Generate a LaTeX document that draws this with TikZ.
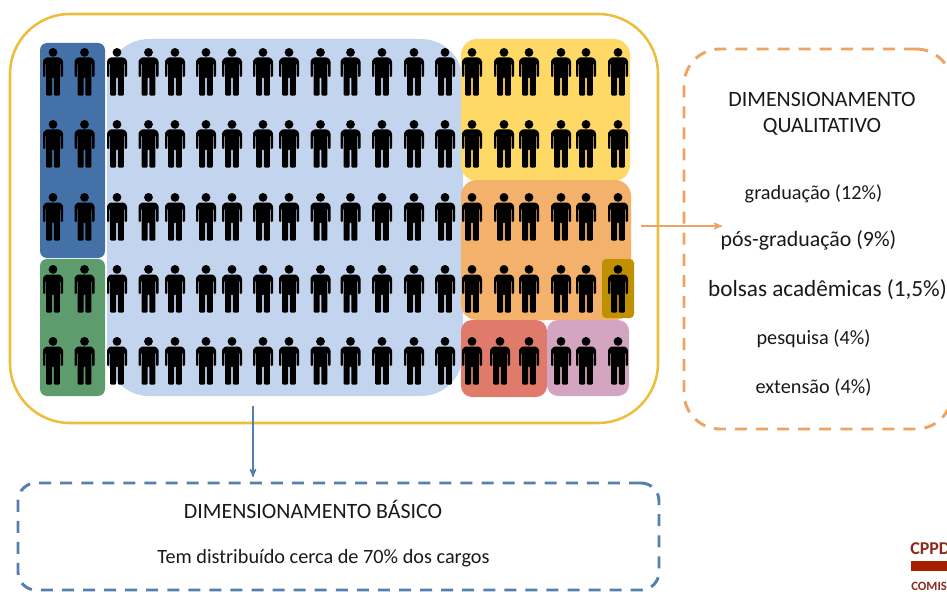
\documentclass[tikz,border=0pt]{standalone}
\usepackage{fontspec}
\setmainfont{Carlito}
\usetikzlibrary{arrows}
\definecolor{frameyellow}{HTML}{EDBE3C}
\definecolor{lightblue}{HTML}{C3D5EE}
\definecolor{darkblue}{HTML}{4472A8}
\definecolor{darkgreen}{HTML}{5E9C6E}
\definecolor{softyellow}{HTML}{FFD966}
\definecolor{softorange}{HTML}{F4B16C}
\definecolor{darkgold}{HTML}{BF9000}
\definecolor{softred}{HTML}{E07B6B}
\definecolor{softpink}{HTML}{D3A5C0}
\definecolor{lineorange}{HTML}{EFA362}
\definecolor{lineblue}{HTML}{5580AE}
\definecolor{logored}{HTML}{A51E00}
\definecolor{logotext}{HTML}{8B2A1A}
\tikzset{
    region/.style n args={3}{
    rectangle,rounded corners=#1*0.75pt,inner sep=0pt,
    minimum width=#2*0.75pt,minimum height=#3*0.75pt
    },
    framebox/.style={
    draw=frameyellow,line width=1.9pt
    },
    dimbox/.style={
    dashed,line width=2.2pt,dash pattern=on 9pt off 6.8pt,fill=none
    },
    label/.style={
    inner sep=0pt,font=\fontsize{15.2}{18}\selectfont,text=black!90
    },
    widelabel/.style={
    label,font=\fontsize{16.4}{19}\selectfont
    },
    link/.style={
    -stealth',line width=1.1pt,shorten >=0pt
    },
    person/.pic={
      \fill (0,4.4) circle (3.3pt);
      \fill[rounded corners=0.8pt] (-7,9.5) -- (7,9.5) -- (10,12.5) -- (10,29) -- (7.6,29)
        -- (7.6,15.5) -- (6.8,15.5) -- (6.8,47.6) -- (0.8,47.6) -- (0.8,29) -- (-0.8,29)
        -- (-0.8,47.6) -- (-6.8,47.6) -- (-6.8,15.5) -- (-7.6,15.5) -- (-7.6,29)
        -- (-10,29) -- (-10,12.5) -- cycle;
    },
}
\newcommand{\upcols}{53,84.5,117,148.5,175,206,232,263,289,320.5,350.5,382,414,445,472,504,529,561,586,618}
\newcommand{\lowcols}{53,84.5,117,148.5,175,206,232,263,289,320.5,350.5,382,414,445,472,500,529,561,586,618}
\begin{document}
\begin{tikzpicture}[x=0.75pt,y=-0.75pt]
  \clip (0,0) rectangle (947,592);

  % cargos
  \node[region={60}{648}{409},framebox] (frame) at (334,218.5) {};
  \node[region={42}{356}{357},fill=lightblue] (basico) at (285,217.5) {};
  \node[region={7}{65}{215},fill=darkblue] (azul) at (72.5,150.5) {};
  \node[region={7}{65}{137},fill=darkgreen] (verde) at (72.5,327.5) {};
  \node[region={16}{169}{142},fill=softyellow] (amarelo) at (545.5,110) {};
  \node[region={16}{170}{140},fill=softorange] (laranja) at (546,250) {};
  \node[region={4}{32}{59},fill=darkgold] (ouro) at (618,288.5) {};
  \node[region={11}{86}{77},fill=softred] (vermelho) at (504,358.5) {};
  \node[region={11}{82}{76},fill=softpink] (rosa) at (588,358) {};

  \foreach \py in {48,120,193,265}
    \foreach \px in \upcols
      \pic at (\px,\py) {person};
  \foreach \px in \lowcols
    \pic at (\px,337) {person};

  % dimensionamento qualitativo
  \node[region={36}{268}{380},dimbox,draw=lineorange] (qual) at (818,239) {};
  \node[widelabel] (qualtitle) at (822,99.5) {DIMENSIONAMENTO};
  \node[widelabel] (qualsub) at (822,126.5) {QUALITATIVO};
  \node[label] (grad) at (813.5,193.5) {graduação (12\%)};
  \node[widelabel] (pos) at (808.5,240.5) {pós-graduação (9\%)};
  \node[widelabel,font=\fontsize{17.4}{20}\selectfont] (bolsas) at (827.5,289.5) {bolsas acadêmicas (1,5\%)};
  \node[label] (pesq) at (813.5,338.5) {pesquisa (4\%)};
  \node[label] (ext) at (813.5,387.5) {extensão (4\%)};

  % dimensionamento basico
  \node[region={18}{641}{107},dimbox,draw=lineblue] (bas) at (338.5,536.5) {};
  \node[widelabel] (bastitle) at (313,509.5) {DIMENSIONAMENTO BÁSICO};
  \node[label] (bastext) at (323.5,558.5) {Tem distribuído cerca de 70\% dos cargos};

  \coordinate (qualfrom) at (641,226);
  \coordinate (qualto) at (722,226);
  \coordinate (basfrom) at (253,406);
  \coordinate (basto) at (253,477);
  \draw[link,draw=lineorange] (qualfrom) -- (qualto);
  \draw[link,draw=lineblue] (basfrom) -- (basto);

  % logo
  \node[inner sep=0pt,anchor=west,font=\fontsize{13.5}{15}\selectfont\bfseries,text=logotext] (cppd) at (910,549) {CPPD};
  \node[region={0}{50}{10},fill=logored] (logobar) at (936,566) {};
  \node[inner sep=0pt,anchor=west,font=\fontsize{9.5}{11}\selectfont\bfseries,text=logotext] (comis) at (911,586) {COMIS};
\end{tikzpicture}
\end{document}
